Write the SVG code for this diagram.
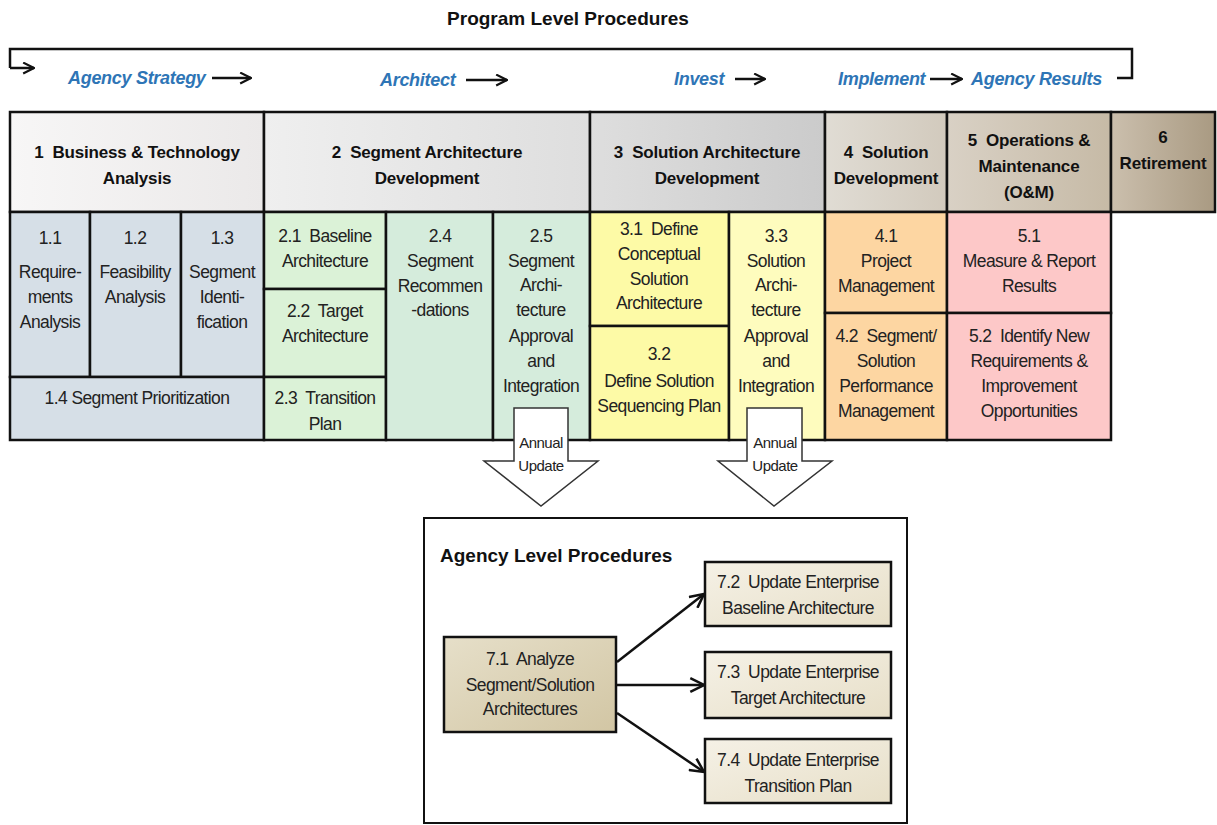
<svg xmlns="http://www.w3.org/2000/svg" width="1217" height="825" viewBox="0 0 1217 825">
  <style>
    text { white-space: pre; }
    .title { font-family: "Liberation Sans", Arial, sans-serif; font-weight: bold; font-size: 19px; fill: #111; }
    .phase { font-family: "Liberation Sans", Arial, sans-serif; font-weight: bold; font-style: italic; font-size: 18px; letter-spacing: -0.3px; fill: #2e75b6; }
    .hdr { font-family: "Liberation Sans", Arial, sans-serif; font-weight: bold; font-size: 17px; letter-spacing: -0.2px; fill: #111; text-anchor: middle; }
    .txt { font-family: "Liberation Sans", Arial, sans-serif; font-size: 17.5px; letter-spacing: -0.6px; fill: #222; text-anchor: middle; }
    .small { font-family: "Liberation Sans", Arial, sans-serif; font-size: 15px; letter-spacing: -0.5px; fill: #222; text-anchor: middle; }
    .cell { stroke: #111; stroke-width: 2.5; }
    .line { fill: none; stroke: #111; stroke-width: 2.5; }
  </style>
  <defs>
    <marker id="open" viewBox="0 0 12 12" refX="11" refY="6" markerWidth="13" markerHeight="13" markerUnits="userSpaceOnUse" orient="auto">
      <path d="M1,1 L11,6 L1,11" fill="none" stroke="#111" stroke-width="2"/>
    </marker>
    <marker id="openL" viewBox="0 0 14 14" refX="13" refY="7" markerWidth="16" markerHeight="16" markerUnits="userSpaceOnUse" orient="auto">
      <path d="M1,1 L13,7 L1,13" fill="none" stroke="#111" stroke-width="2.2"/>
    </marker>
    <linearGradient id="g1" x1="0" y1="0" x2="1" y2="0"><stop offset="0" stop-color="#f7f6f6"/><stop offset="1" stop-color="#ebe9e9"/></linearGradient>
    <linearGradient id="g2" x1="0" y1="0" x2="1" y2="0"><stop offset="0" stop-color="#efefef"/><stop offset="1" stop-color="#dedede"/></linearGradient>
    <linearGradient id="g3" x1="0" y1="0" x2="1" y2="0"><stop offset="0" stop-color="#dedede"/><stop offset="1" stop-color="#cbcbcb"/></linearGradient>
    <linearGradient id="g4" x1="0" y1="0" x2="1" y2="0"><stop offset="0" stop-color="#e0dcd4"/><stop offset="1" stop-color="#d2cabd"/></linearGradient>
    <linearGradient id="g5" x1="0" y1="0" x2="1" y2="0"><stop offset="0" stop-color="#d9d1c5"/><stop offset="1" stop-color="#c6baa6"/></linearGradient>
    <linearGradient id="g6" x1="0" y1="0" x2="1" y2="0"><stop offset="0" stop-color="#cbbfad"/><stop offset="1" stop-color="#a99a82"/></linearGradient>
    <linearGradient id="gTan" x1="0" y1="0" x2="1" y2="1"><stop offset="0" stop-color="#e6dfc9"/><stop offset="1" stop-color="#d2c6a4"/></linearGradient>
    <linearGradient id="gCream" x1="0" y1="0" x2="1" y2="1"><stop offset="0" stop-color="#f5f1e6"/><stop offset="1" stop-color="#e7dfc8"/></linearGradient>
  </defs>

  <!-- heading and lifecycle loop -->
  <text class="title" x="568" y="25" text-anchor="middle">Program Level Procedures</text>
  <g id="lifecycle">
    <path class="line" d="M10,68 V49 H1132 V78 H1117"/>
    <path class="line" d="M10,68 H34" marker-end="url(#open)"/>
    <text class="phase" x="68" y="84">Agency Strategy</text>
    <path class="line" d="M212,78 H251" marker-end="url(#open)"/>
    <text class="phase" x="380" y="86">Architect</text>
    <path class="line" d="M466,80 H507" marker-end="url(#open)"/>
    <text class="phase" x="674" y="85">Invest</text>
    <path class="line" d="M735,79 H765" marker-end="url(#open)"/>
    <text class="phase" x="838" y="85">Implement</text>
    <path class="line" d="M930,79 H962" marker-end="url(#open)"/>
    <text class="phase" x="971" y="85">Agency Results</text>
  </g>

  <!-- phase headers -->
  <g id="phase-1">
    <rect class="cell" x="10" y="112" width="254" height="100" fill="url(#g1)"/>
    <text class="hdr" x="137" y="158">1  Business &amp; Technology</text>
    <text class="hdr" x="137" y="184">Analysis</text>
  </g>
  <g id="phase-2">
    <rect class="cell" x="264" y="112" width="326" height="100" fill="url(#g2)"/>
    <text class="hdr" x="427" y="158">2  Segment Architecture</text>
    <text class="hdr" x="427" y="184">Development</text>
  </g>
  <g id="phase-3">
    <rect class="cell" x="590" y="112" width="235" height="100" fill="url(#g3)"/>
    <text class="hdr" x="707" y="158">3  Solution Architecture</text>
    <text class="hdr" x="707" y="184">Development</text>
  </g>
  <g id="phase-4">
    <rect class="cell" x="825" y="112" width="122" height="100" fill="url(#g4)"/>
    <text class="hdr" x="886" y="158">4  Solution</text>
    <text class="hdr" x="886" y="184">Development</text>
  </g>
  <g id="phase-5">
    <rect class="cell" x="947" y="112" width="164" height="100" fill="url(#g5)"/>
    <text class="hdr" x="1029" y="146">5  Operations &amp;</text>
    <text class="hdr" x="1029" y="172">Maintenance</text>
    <text class="hdr" x="1029" y="198">(O&amp;M)</text>
  </g>
  <g id="phase-6">
    <rect class="cell" x="1111" y="112" width="104" height="100" fill="url(#g6)"/>
    <text class="hdr" x="1163" y="143">6</text>
    <text class="hdr" x="1163" y="169">Retirement</text>
  </g>

  <!-- 1 Business & Technology Analysis -->
  <g id="step-1-1">
    <rect class="cell" x="10" y="212" width="80" height="165" fill="#d6dfe7"/>
    <text class="txt" x="50" y="244">1.1</text>
    <text class="txt" x="50" y="278">Require-</text>
    <text class="txt" x="50" y="303">ments</text>
    <text class="txt" x="50" y="328">Analysis</text>
  </g>
  <g id="step-1-2">
    <rect class="cell" x="90" y="212" width="91" height="165" fill="#d6dfe7"/>
    <text class="txt" x="135" y="244">1.2</text>
    <text class="txt" x="135" y="278">Feasibility</text>
    <text class="txt" x="135" y="303">Analysis</text>
  </g>
  <g id="step-1-3">
    <rect class="cell" x="181" y="212" width="83" height="165" fill="#d6dfe7"/>
    <text class="txt" x="222" y="244">1.3</text>
    <text class="txt" x="222" y="278">Segment</text>
    <text class="txt" x="222" y="303">Identi-</text>
    <text class="txt" x="222" y="328">fication</text>
  </g>
  <g id="step-1-4">
    <rect class="cell" x="10" y="377" width="254" height="63" fill="#d6dfe7"/>
    <text class="txt" x="137" y="404">1.4 Segment Prioritization</text>
  </g>

  <!-- 2 Segment Architecture Development -->
  <g id="step-2-1">
    <rect class="cell" x="264" y="212" width="122" height="77" fill="#dbf2d7"/>
    <text class="txt" x="325" y="242">2.1  Baseline</text>
    <text class="txt" x="325" y="267">Architecture</text>
  </g>
  <g id="step-2-2">
    <rect class="cell" x="264" y="289" width="122" height="88" fill="#dbf2d7"/>
    <text class="txt" x="325" y="317">2.2  Target</text>
    <text class="txt" x="325" y="342">Architecture</text>
  </g>
  <g id="step-2-3">
    <rect class="cell" x="264" y="377" width="122" height="63" fill="#dbf2d7"/>
    <text class="txt" x="325" y="404">2.3  Transition</text>
    <text class="txt" x="325" y="430">Plan</text>
  </g>
  <g id="step-2-4">
    <rect class="cell" x="386" y="212" width="107" height="228" fill="#d5ecdc"/>
    <text class="txt" x="440" y="242">2.4</text>
    <text class="txt" x="440" y="267">Segment</text>
    <text class="txt" x="440" y="292">Recommen</text>
    <text class="txt" x="440" y="316">-dations</text>
  </g>
  <g id="step-2-5">
    <rect class="cell" x="493" y="212" width="97" height="228" fill="#d5ecdc"/>
    <text class="txt" x="541" y="242">2.5</text>
    <text class="txt" x="541" y="267">Segment</text>
    <text class="txt" x="541" y="291">Archi-</text>
    <text class="txt" x="541" y="316">tecture</text>
    <text class="txt" x="541" y="342">Approval</text>
    <text class="txt" x="541" y="367">and</text>
    <text class="txt" x="541" y="392">Integration</text>
  </g>

  <!-- 3 Solution Architecture Development -->
  <g id="step-3-1">
    <rect class="cell" x="590" y="212" width="139" height="114" fill="#fdfaa6"/>
    <text class="txt" x="659" y="235">3.1  Define</text>
    <text class="txt" x="659" y="260">Conceptual</text>
    <text class="txt" x="659" y="285">Solution</text>
    <text class="txt" x="659" y="309">Architecture</text>
  </g>
  <g id="step-3-2">
    <rect class="cell" x="590" y="326" width="139" height="114" fill="#fdfaa6"/>
    <text class="txt" x="659" y="360">3.2</text>
    <text class="txt" x="659" y="387">Define Solution</text>
    <text class="txt" x="659" y="412">Sequencing Plan</text>
  </g>
  <g id="step-3-3">
    <rect class="cell" x="729" y="212" width="96" height="228" fill="#fefcbe"/>
    <text class="txt" x="776" y="242">3.3</text>
    <text class="txt" x="776" y="267">Solution</text>
    <text class="txt" x="776" y="291">Archi-</text>
    <text class="txt" x="776" y="316">tecture</text>
    <text class="txt" x="776" y="342">Approval</text>
    <text class="txt" x="776" y="367">and</text>
    <text class="txt" x="776" y="392">Integration</text>
  </g>

  <!-- 4 Solution Development -->
  <g id="step-4-1">
    <rect class="cell" x="825" y="212" width="122" height="101" fill="#fdd6a2"/>
    <text class="txt" x="886" y="242">4.1</text>
    <text class="txt" x="886" y="267">Project</text>
    <text class="txt" x="886" y="292">Management</text>
  </g>
  <g id="step-4-2">
    <rect class="cell" x="825" y="313" width="122" height="127" fill="#fdd6a2"/>
    <text class="txt" x="886" y="342">4.2  Segment/</text>
    <text class="txt" x="886" y="367">Solution</text>
    <text class="txt" x="886" y="392">Performance</text>
    <text class="txt" x="886" y="417">Management</text>
  </g>

  <!-- 5 Operations & Maintenance -->
  <g id="step-5-1">
    <rect class="cell" x="947" y="212" width="164" height="101" fill="#fdc8c8"/>
    <text class="txt" x="1029" y="242">5.1</text>
    <text class="txt" x="1029" y="267">Measure &amp; Report</text>
    <text class="txt" x="1029" y="292">Results</text>
  </g>
  <g id="step-5-2">
    <rect class="cell" x="947" y="313" width="164" height="127" fill="#fdc8c8"/>
    <text class="txt" x="1029" y="342">5.2  Identify New</text>
    <text class="txt" x="1029" y="367">Requirements &amp;</text>
    <text class="txt" x="1029" y="392">Improvement</text>
    <text class="txt" x="1029" y="417">Opportunities</text>
  </g>

  <!-- annual update block arrows -->
  <g id="annual-update-1">
    <path d="M514,408 H568 V461 H598 L541,506 L484,461 H514 Z" fill="#fff" stroke="#333" stroke-width="1.5"/>
    <text class="small" x="541" y="448">Annual</text>
    <text class="small" x="541" y="471">Update</text>
  </g>
  <g id="annual-update-2">
    <path d="M747,408 H802 V461 H832 L774,506 L718,461 H747 Z" fill="#fff" stroke="#333" stroke-width="1.5"/>
    <text class="small" x="775" y="448">Annual</text>
    <text class="small" x="775" y="471">Update</text>
  </g>

  <!-- agency level procedures -->
  <g id="agency-level">
    <rect x="424" y="518" width="483" height="305" fill="#fff" stroke="#111" stroke-width="2"/>
    <text class="title" x="440" y="562">Agency Level Procedures</text>
  </g>
  <g id="step-7-1">
    <rect class="cell" x="444" y="637" width="172" height="95" fill="url(#gTan)"/>
    <text class="txt" x="530" y="665">7.1  Analyze</text>
    <text class="txt" x="530" y="691">Segment/Solution</text>
    <text class="txt" x="530" y="715">Architectures</text>
  </g>
  <g id="step-7-2">
    <rect class="cell" x="705" y="562" width="186" height="64" fill="url(#gCream)"/>
    <text class="txt" x="798" y="588">7.2  Update Enterprise</text>
    <text class="txt" x="798" y="614">Baseline Architecture</text>
  </g>
  <g id="step-7-3">
    <rect class="cell" x="705" y="652" width="186" height="66" fill="url(#gCream)"/>
    <text class="txt" x="798" y="678">7.3  Update Enterprise</text>
    <text class="txt" x="798" y="704">Target Architecture</text>
  </g>
  <g id="step-7-4">
    <rect class="cell" x="705" y="739" width="186" height="64" fill="url(#gCream)"/>
    <text class="txt" x="798" y="766">7.4  Update Enterprise</text>
    <text class="txt" x="798" y="792">Transition Plan</text>
  </g>

  <g id="connectors">
    <path class="line" d="M617,662 L704,594" marker-end="url(#openL)"/>
    <path class="line" d="M617,685 L704,685" marker-end="url(#openL)"/>
    <path class="line" d="M617,713 L704,772" marker-end="url(#openL)"/>
  </g>
</svg>
